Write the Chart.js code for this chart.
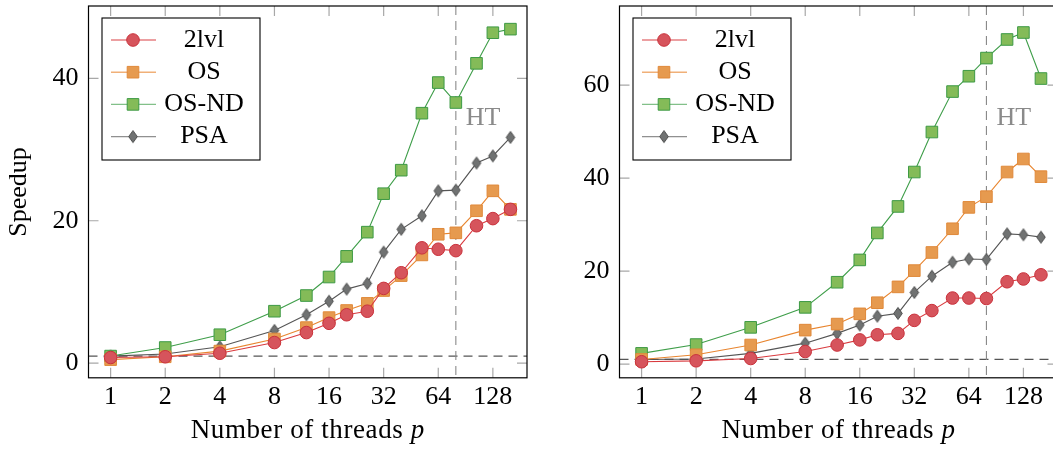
<!DOCTYPE html>
<html>
<head>
<meta charset="utf-8">
<script src="https://cdn.jsdelivr.net/npm/chart.js@4.4.1/dist/chart.umd.min.js"></script>
<style>
  html, body { margin: 0; padding: 0; background: #fff; overflow: hidden; }
  #wrap { position: relative; width: 1053px; height: 450px; overflow: hidden; }
  canvas { position: absolute; top: 0; }
  #chartA { left: 0; }
  #chartB { left: 540px; }
</style>
</head>
<body>
<div id="wrap">
  <canvas id="chartA" width="540" height="450"></canvas>
  <canvas id="chartB" width="520" height="450"></canvas>
</div>
<script>
// thread counts (x) and tick labels
const threads = [1, 2, 4, 8, 12, 16, 20, 26, 32, 40, 52, 64, 80, 104, 128, 160];
const xTicks = [1, 2, 4, 8, 16, 32, 64, 128];
const htThreads = 80; // hyper-threading starts here

// left panel
const lvl2A = [0.8, 0.9, 1.4, 2.9, 4.3, 5.6, 6.8, 7.3, 10.5, 12.7, 16.2, 16.0, 15.8, 19.3, 20.3, 21.6];
const osA   = [0.5, 0.9, 1.7, 3.4, 5.0, 6.4, 7.4, 8.4, 10.2, 12.3, 15.2, 18.1, 18.3, 21.4, 24.2, 21.6];
const osndA = [1.0, 2.2, 4.0, 7.3, 9.5, 12.1, 15.0, 18.4, 23.8, 27.1, 35.1, 39.4, 36.6, 42.1, 46.4, 46.9];
const psaA  = [1.0, 1.3, 2.3, 4.6, 6.8, 8.7, 10.4, 11.2, 15.6, 18.8, 20.7, 24.2, 24.3, 28.1, 29.1, 31.7];
const yTicksA = [0, 20, 40];

// right panel
const lvl2B = [0.5, 0.7, 1.2, 2.7, 4.1, 5.2, 6.3, 6.6, 9.4, 11.5, 14.2, 14.2, 14.1, 17.7, 18.3, 19.2];
const osB   = [1.0, 2.0, 4.1, 7.3, 8.6, 10.8, 13.2, 16.6, 20.1, 24.0, 29.1, 33.7, 36.0, 41.3, 44.1, 40.3];
const osndB = [2.3, 4.2, 7.9, 12.2, 17.6, 22.4, 28.2, 33.9, 41.3, 49.9, 58.6, 61.9, 65.8, 69.8, 71.3, 61.4];
const psaB  = [1.0, 1.1, 2.3, 4.5, 6.6, 8.4, 10.3, 10.9, 15.4, 18.9, 21.9, 22.6, 22.5, 28.0, 27.8, 27.3];
const yTicksB = [0, 20, 40, 60];

const seriesNames = ['2lvl', 'OS', 'OS-ND', 'PSA'];

const FONT = '"Liberation Serif", "Times New Roman", serif';
Chart.defaults.font.family = FONT;
Chart.defaults.color = '#000';

// tall diamond marker like pgfplots diamond*
function makeDiamond(fill, stroke) {
  const c = document.createElement('canvas');
  c.width = 12; c.height = 15;
  const g = c.getContext('2d');
  g.beginPath();
  g.moveTo(6, 1.5); g.lineTo(10.3, 7.5); g.lineTo(6, 13.5); g.lineTo(1.7, 7.5);
  g.closePath();
  g.fillStyle = fill; g.fill();
  g.lineWidth = 1; g.strokeStyle = stroke; g.stroke();
  return c;
}

const styles = [
  { line: '#d93a3e', fill: '#d6545c', edge: '#c9323c', point: 'circle', radius: 6.3 },
  { line: '#e8852f', fill: '#e69a4f', edge: '#e0893a', point: 'rect', radius: 8.2 },
  { line: '#3f9e4a', fill: '#84bb58', edge: '#3d9a45', point: 'rect', radius: 8.2 },
  { line: '#555555', fill: '#707272', edge: '#4e4e4e', point: makeDiamond('#707272', '#4e4e4e'), radius: 5 }
];

function buildDatasets(lists) {
  return lists.map(function(vals, i) {
    const s = styles[i];
    return {
      label: seriesNames[i],
      data: threads.map(function(t, k) { return { x: t, y: vals[k] }; }),
      borderColor: s.line,
      borderWidth: 1.1,
      pointStyle: s.point,
      pointRadius: s.radius,
      pointBackgroundColor: s.fill,
      pointBorderColor: s.edge,
      pointBorderWidth: 1,
      tension: 0
    };
  });
}

const decor = {
  id: 'decor',
  beforeDatasetsDraw(chart) {
    const ctx = chart.ctx, a = chart.chartArea, x = chart.scales.x, y = chart.scales.y;
    ctx.save();
    // inward tick marks on all four sides
    ctx.strokeStyle = '#a8a8a8';
    ctx.lineWidth = 1.2;
    ctx.beginPath();
    xTicks.forEach(function(v) {
      const px = x.getPixelForValue(v);
      ctx.moveTo(px, a.bottom); ctx.lineTo(px, a.bottom - 10);
      ctx.moveTo(px, a.top); ctx.lineTo(px, a.top + 10);
    });
    chart.options.plugins.decor.yTicks.forEach(function(v) {
      const py = y.getPixelForValue(v);
      ctx.moveTo(a.left, py); ctx.lineTo(a.left + 10, py);
      ctx.moveTo(a.right, py); ctx.lineTo(a.right - 10, py);
    });
    ctx.stroke();

    // dashed reference lines: speedup 1 and HT boundary
    ctx.beginPath();
    ctx.rect(a.left, a.top, a.right - a.left, a.bottom - a.top);
    ctx.clip();
    ctx.setLineDash([9, 6]);
    ctx.strokeStyle = '#555';
    ctx.lineWidth = 1.3;
    const y1 = y.getPixelForValue(1);
    ctx.beginPath(); ctx.moveTo(a.left, y1); ctx.lineTo(a.right, y1); ctx.stroke();
    const xh = x.getPixelForValue(htThreads);
    ctx.strokeStyle = '#8a8a8a';
    ctx.lineWidth = 1.1;
    ctx.beginPath(); ctx.moveTo(xh, a.top); ctx.lineTo(xh, a.bottom); ctx.stroke();
    ctx.setLineDash([]);
    ctx.fillStyle = '#8a8a8a';
    ctx.font = '26px ' + FONT;
    ctx.textAlign = 'left';
    ctx.textBaseline = 'middle';
    ctx.fillText('HT', xh + 10, a.top + 0.301 * (a.bottom - a.top));
    ctx.restore();
  },
  afterDraw(chart) {
    const ctx = chart.ctx, a = chart.chartArea;
    ctx.save();
    // frame
    ctx.strokeStyle = '#000';
    ctx.lineWidth = 1.2;
    ctx.strokeRect(a.left, a.top, a.right - a.left, a.bottom - a.top);

    // x title with italic p
    const t1 = 'Number of threads ', t2 = 'p';
    ctx.fillStyle = '#000';
    ctx.textBaseline = 'middle';
    ctx.textAlign = 'left';
    ctx.letterSpacing = '0.6px';
    ctx.font = '27px ' + FONT;
    const w1 = ctx.measureText(t1).width;
    ctx.font = 'italic 27px ' + FONT;
    const w2 = ctx.measureText(t2).width;
    const sx = (a.left + a.right) / 2 - (w1 + w2) / 2;
    ctx.font = '27px ' + FONT;
    ctx.fillText(t1, sx, 431);
    ctx.font = 'italic 27px ' + FONT;
    ctx.fillText(t2, sx + w1, 431);
    ctx.letterSpacing = '0px';

    // legend box
    const bx = a.left + 13.5, by = a.top + 12, bw = 158, bh = 142;
    ctx.fillStyle = '#fff';
    ctx.fillRect(bx, by, bw, bh);
    ctx.strokeStyle = '#000';
    ctx.lineWidth = 1.1;
    ctx.strokeRect(bx, by, bw, bh);
    chart.data.datasets.forEach(function(ds, i) {
      const s = styles[i];
      const ly = by + 22 + i * 32.2;
      ctx.globalAlpha = 0.65;
      ctx.strokeStyle = s.line;
      ctx.lineWidth = 1.4;
      ctx.beginPath(); ctx.moveTo(bx + 9, ly); ctx.lineTo(bx + 54, ly); ctx.stroke();
      ctx.globalAlpha = 1;
      ctx.fillStyle = s.fill;
      ctx.strokeStyle = s.edge;
      ctx.lineWidth = 1;
      Chart.helpers.drawPoint(ctx, { pointStyle: s.point, radius: s.radius, rotation: 0, borderWidth: 1 }, bx + 31, ly);
      ctx.fillStyle = '#000';
      ctx.font = '26px ' + FONT;
      ctx.textAlign = 'center';
      ctx.textBaseline = 'middle';
      ctx.fillText(ds.label, bx + 102, ly);
    });
    ctx.restore();
  }
};

function makeChart(id, lists, yMin, yMax, yTicks, axisWidth, padRight, showTitle) {
  return new Chart(document.getElementById(id), {
    type: 'line',
    data: { datasets: buildDatasets(lists) },
    plugins: [decor],
    options: {
      responsive: false,
      devicePixelRatio: 1,
      animation: false,
      layout: { autoPadding: false, padding: { top: 6, right: padRight, bottom: 0, left: 0 } },
      plugins: {
        legend: { display: false },
        tooltip: { enabled: false },
        decor: { yTicks: yTicks }
      },
      scales: {
        x: {
          type: 'logarithmic',
          bounds: 'data',
          min: Math.pow(2, -0.405),
          max: Math.pow(2, 7.625),
          grid: { display: false, drawTicks: false },
          border: { display: false },
          afterBuildTicks: function(s) { s.ticks = xTicks.map(function(v) { return { value: v }; }); },
          afterFit: function(s) {
            s.height = 72.2;
            s.paddingLeft = 0; s.paddingRight = 0;
          },
          ticks: {
            autoSkip: false, maxRotation: 0, padding: 6, color: '#000',
            font: { size: 26, lineHeight: 1 },
            callback: function(v) { return String(v); }
          }
        },
        y: {
          type: 'linear',
          min: yMin,
          max: yMax,
          grid: { display: false, drawTicks: false },
          border: { display: false },
          afterBuildTicks: function(s) { s.ticks = yTicks.map(function(v) { return { value: v }; }); },
          afterFit: function(s) {
            s.width = axisWidth;
            s.paddingTop = 0; s.paddingBottom = 0;
          },
          ticks: {
            padding: 10, color: '#000',
            font: { size: 26, lineHeight: 1 },
            callback: function(v) { return String(v); }
          },
          title: {
            display: showTitle, text: 'Speedup', color: '#000',
            font: { size: 26, lineHeight: 1 },
            padding: { top: 6.5, bottom: 0 }
          }
        }
      }
    }
  });
}

makeChart('chartA', [lvl2A, osA, osndA, psaA], -2.05, 50.15, yTicksA, 88.5, 13, true);
makeChart('chartB', [lvl2B, osB, osndB, psaB], -2.95, 77.0, yTicksB, 79.5, 2.5, false);
</script>
</body>
</html>
